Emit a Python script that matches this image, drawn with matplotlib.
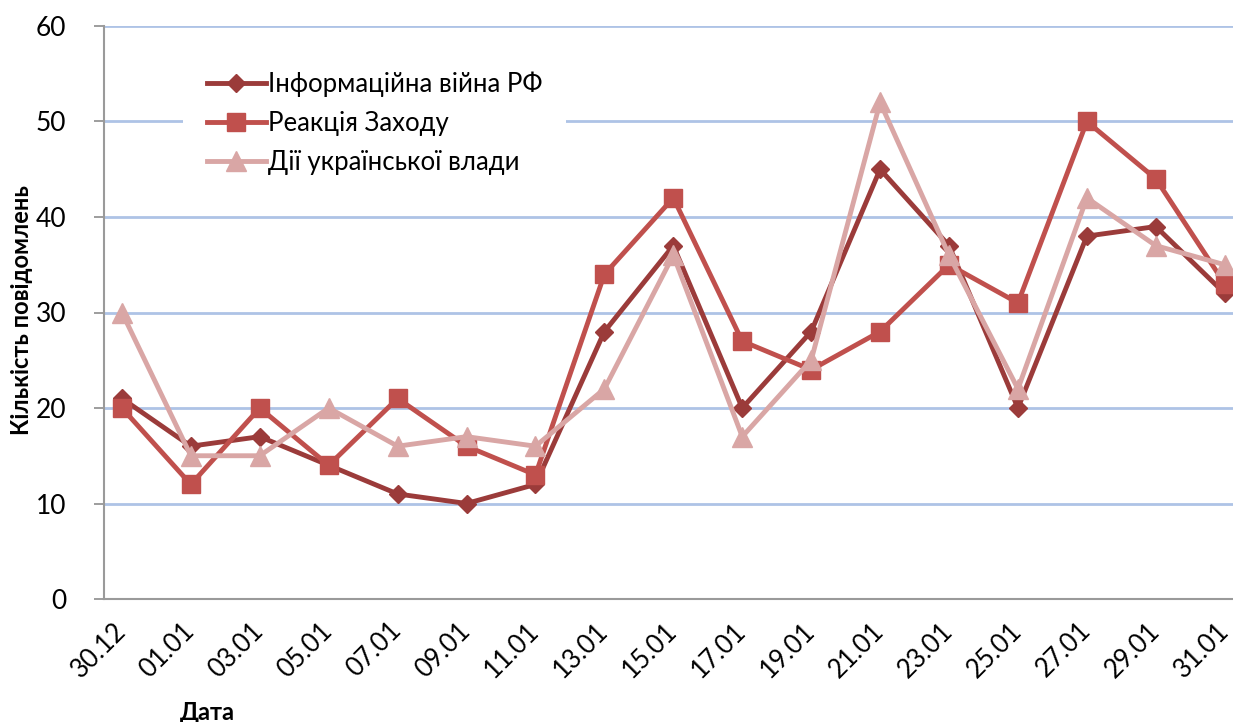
import numpy as np
import matplotlib.pyplot as plt

plt.rcParams['font.family'] = ['Lato', 'DejaVu Sans']

dates = ['30.12', '01.01', '03.01', '05.01', '07.01', '09.01', '11.01', '13.01', '15.01',
         '17.01', '19.01', '21.01', '23.01', '25.01', '27.01', '29.01', '31.01']
info_war = [21, 16, 17, 14, 11, 10, 12, 28, 37, 20, 28, 45, 37, 20, 38, 39, 32]
west = [20, 12, 20, 14, 21, 16, 13, 34, 42, 27, 24, 28, 35, 31, 50, 44, 33]
ukr_gov = [30, 15, 15, 20, 16, 17, 16, 22, 36, 17, 25, 52, 36, 22, 42, 37, 35]

fig = plt.figure(figsize=(12.33, 7.22), dpi=100)
ax = fig.add_axes([104 / 1233, 1 - 599 / 722, 1 - 104 / 1233, (599 - 26) / 722])

x = np.arange(len(dates))
ax.plot(x, info_war, color='#9B3B3A', lw=3.5, marker='D', ms=9, label='Інформаційна війна РФ', zorder=3)
ax.plot(x, west, color='#C0504D', lw=3.5, marker='s', ms=13, label='Реакція Заходу', zorder=4)
ax.plot(x, ukr_gov, color='#D9A6A5', lw=3.5, marker='^', ms=14, label='Дії української влади', zorder=5)

ax.set_xlim(-0.26, 16.12)
ax.set_ylim(0, 60)
ax.set_yticks(range(0, 61, 10))
ax.set_xticks(x)
ax.set_xticklabels(dates, rotation=45, ha='right', va='center', rotation_mode='anchor', fontsize=18.5)
ax.tick_params(axis='x', length=0, pad=20)
ax.tick_params(axis='y', length=7, width=1.2, color='#8C8C8C', labelsize=19, pad=20)

ax.grid(axis='y', color='#AEC3E6', lw=2)
ax.set_axisbelow(True)
for s in ['top', 'right']:
    ax.spines[s].set_visible(False)
for s in ['left', 'bottom']:
    ax.spines[s].set_color('#9A9A9A')
    ax.spines[s].set_linewidth(1.5)

ax.set_ylabel('Кількість повідомлень', fontsize=17, fontweight='bold', va='center')
ax.yaxis.set_label_coords((22 - 104) / (1233 - 104), (599 - 310) / 573)
ax.set_xlabel('Дата', fontsize=17, fontweight='bold', va='center')
ax.xaxis.set_label_coords((207 - 104) / (1233 - 104), -(712 - 599) / 573)

leg = ax.legend(loc='upper left', bbox_to_anchor=(0.059, 0.984), fontsize=18.5, frameon=True,
                handlelength=2.3, handletextpad=0.1, labelspacing=0.55, borderpad=0.9)
leg.get_frame().set_edgecolor('none')
leg.get_frame().set_facecolor('white')
leg.get_frame().set_alpha(1)

fig.savefig('out.png', dpi=100)
